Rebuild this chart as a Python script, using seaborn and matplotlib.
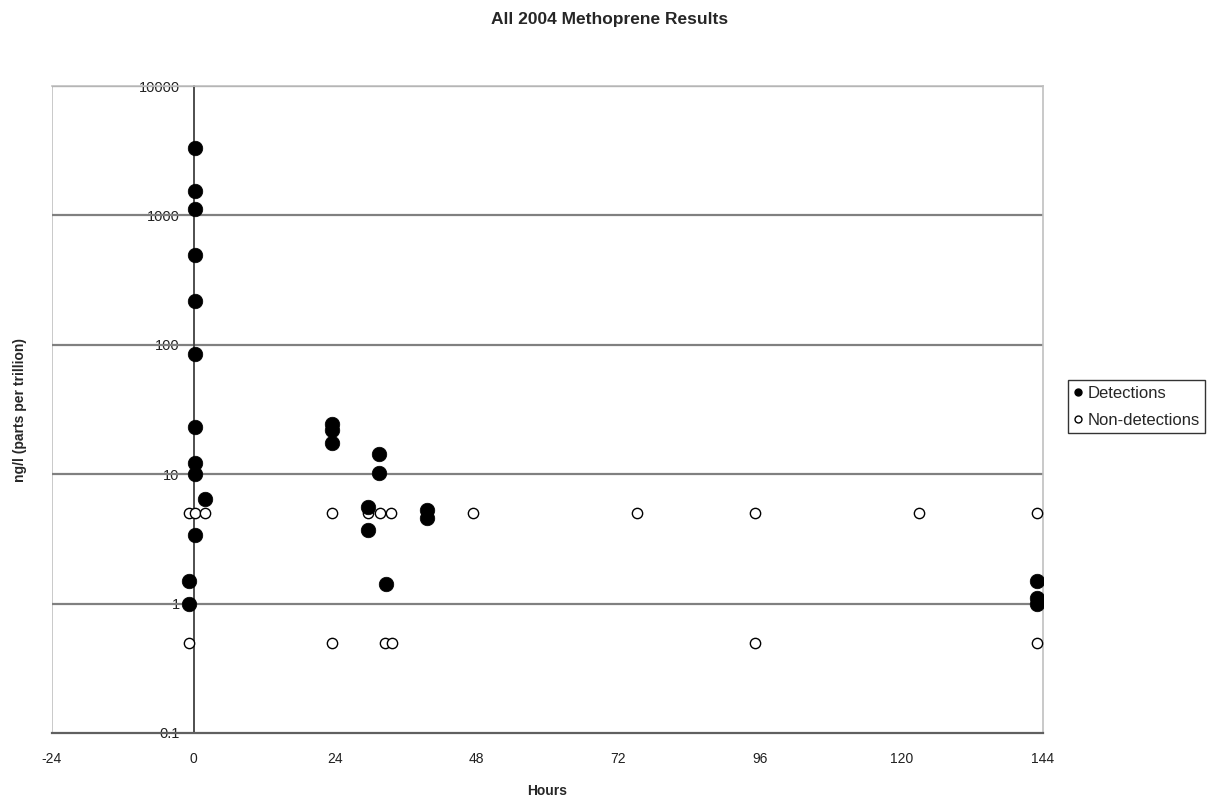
import matplotlib
matplotlib.use("Agg")
import matplotlib.pyplot as plt
import seaborn as sns
import pandas as pd
from matplotlib.lines import Line2D

det_hours = [0.2, 0.2, 0.2, 0.2, 0.2, 0.2, 0.2, 0.2, 0.2, 1.9, 0.2, -0.8, -0.8,
             23.5, 23.5, 23.5, 31.5, 31.5, 29.5, 29.5, 32.6, 39.6, 39.6,
             143, 143, 143]
det_values = [3320, 1545, 1120, 494, 217, 85, 23, 12.2, 10, 6.4, 3.4, 1.5, 1.0,
              24.5, 22, 17.4, 14.3, 10.2, 5.6, 3.7, 1.42, 5.3, 4.6,
              1.5, 1.1, 1.0]
nd_hours = [-0.8, 0.2, 1.9, -0.8, 23.5, 23.5, 29.5, 31.6, 33.5, 47.4, 75.2,
            95.2, 123, 143, 95.2, 143, 32.4, 33.6]
nd_values = [5, 5, 5, 0.5, 5, 0.5, 5, 5, 5, 5, 5, 5, 5, 5, 0.5, 0.5, 0.5, 0.5]
x_ticks = [-24, 0, 24, 48, 72, 96, 120, 144]
y_ticks = [0.1, 1, 10, 100, 1000, 10000]
y_labels = ["0.1", "1", "10", "100", "1000", "10000"]

sns.set_style("white")
plt.rcParams['font.family'] = ['Liberation Sans', 'DejaVu Sans']

det = pd.DataFrame({"Hours": det_hours, "Value": det_values})
nd = pd.DataFrame({"Hours": nd_hours, "Value": nd_values})

fig = plt.figure(figsize=(12.19, 7.99), dpi=100)
ax = fig.add_axes([52/1219, 66/799, (1043-52)/1219, (733-86)/799])

ax.set_yscale("log")
ax.set_xlim(-24, 144)
ax.set_ylim(0.1, 10000)

for v in [1, 10, 100, 1000, 10000]:
    ax.axhline(v, color="#808080", lw=1.6, zorder=1)

sns.scatterplot(data=nd, x="Hours", y="Value", ax=ax, marker="o", s=55,
                facecolor="white", edgecolor="black", linewidth=1.0, zorder=3,
                legend=False)
sns.scatterplot(data=det, x="Hours", y="Value", ax=ax, marker="o", s=110,
                color="black", edgecolor="black", linewidth=0.5, zorder=4,
                legend=False)

ax.spines['left'].set_position(('data', 0))
ax.spines['left'].set_color("#404040")
ax.spines['left'].set_linewidth(1.3)
ax.spines['bottom'].set_color("#606060")
ax.spines['bottom'].set_linewidth(1.6)
for s in ['top', 'right']:
    ax.spines[s].set_color("#c0c0c0")
    ax.spines[s].set_linewidth(1.2)
ax.axvline(-24, color="#c0c0c0", lw=1.2, zorder=0)

ax.set_xticks(x_ticks)
ax.set_xticklabels([str(t) for t in x_ticks])
ax.set_yticks(y_ticks)
ax.set_yticklabels(y_labels)
ax.yaxis.set_minor_locator(matplotlib.ticker.NullLocator())
ax.tick_params(axis='x', which='major', length=5, width=1, color="#404040",
               labelsize=10, direction='inout', labelcolor="#202020", pad=11)
ax.tick_params(axis='y', which='major', length=5, width=1, color="#404040",
               labelsize=10.5, direction='out', labelcolor="#202020", pad=5)

ax.set_xlabel("Hours", fontsize=10, fontweight="bold", labelpad=13)
ax.set_ylabel("ng/l (parts per trillion)", fontsize=10, fontweight="bold")
ax.yaxis.set_label_coords(-0.025, 0.5)
fig.suptitle("All 2004 Methoprene Results", fontsize=12.5, fontweight="bold", y=0.985)

handles = [Line2D([], [], marker="o", ls="none", color="black", markersize=5),
           Line2D([], [], marker="o", ls="none", markerfacecolor="white",
                  markeredgecolor="black", markersize=5)]
leg = fig.legend(handles, ["Detections", "Non-detections"], loc="upper left",
                 bbox_to_anchor=(1068/1219, 1 - 380/799), fontsize=12,
                 frameon=True, fancybox=False, edgecolor="black",
                 handlelength=0.5, handletextpad=0.3, borderpad=0.35,
                 labelspacing=0.7, borderaxespad=0)
leg.get_frame().set_linewidth(1.0)

fig.savefig("out.png", dpi=100)
